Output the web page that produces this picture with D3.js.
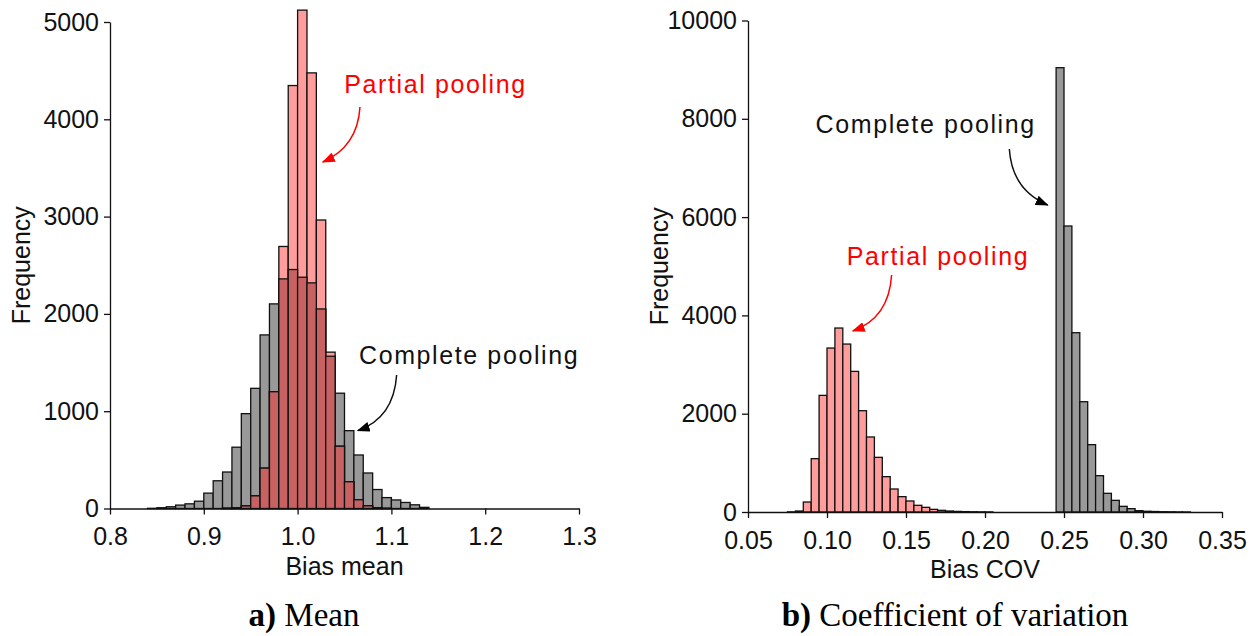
<!DOCTYPE html>
<html>
<head>
<meta charset="utf-8">
<script src="https://cdn.jsdelivr.net/npm/d3@7"></script>
<style>
body { margin: 0; background: #fff; }
text { font-family: "Liberation Sans", Arial, sans-serif; }
</style>
</head>
<body>
<script>
// ---- data ----
// a) bias mean, bins 0.01 wide (left edge)
var meanBins = [0.84,0.85,0.86,0.87,0.88,0.89,0.90,0.91,0.92,0.93,0.94,0.95,0.96,0.97,0.98,0.99,1.00,1.01,1.02,1.03,1.04,1.05,1.06,1.07,1.08,1.09,1.10,1.11,1.12,1.13];
var meanComplete = [2,8,18,35,48,75,158,285,375,630,975,1235,1784,2103,2360,2456,2377,2319,2051,1565,1185,800,550,365,195,112,88,62,38,12];
var meanPartial = [0,0,0,0,0,0,0,0,3,8,27,130,415,1200,2693,4347,5122,4477,2965,1607,640,275,90,28,8,2,0,0,0,0];
var meanXTicks = [0.8,0.9,1.0,1.1,1.2,1.3];
var meanYTicks = [0,1000,2000,3000,4000,5000];

// b) bias COV, bins 0.005 wide (left edge)
var covPartialBins = [0.075,0.08,0.085,0.09,0.095,0.1,0.105,0.11,0.115,0.12,0.125,0.13,0.135,0.14,0.145,0.15,0.155,0.16,0.165,0.17,0.175,0.18,0.185,0.19,0.195,0.2];
var covPartial = [3,20,203,1085,2373,3336,3743,3417,2861,2061,1526,1112,719,468,312,224,136,95,54,34,20,12,8,5,3,2];
var covCompleteBins = [0.245,0.25,0.255,0.26,0.265,0.27,0.275,0.28,0.285,0.29,0.295,0.3,0.305,0.31,0.315,0.32,0.325];
var covComplete = [9040,5819,3648,2244,1370,739,380,237,115,68,27,15,10,6,4,2,1];
var covXTicks = [0.05,0.10,0.15,0.20,0.25,0.30,0.35];
var covYTicks = [0,2000,4000,6000,8000,10000];

var pink = "#ff9c9c", grey = "#999999", overlap = "#c86262";

var svg = d3.select("body").append("svg")
  .attr("width", 1258)
  .attr("height", 636);

var defs = svg.append("defs");
function addMarker(id, color) {
  defs.append("marker")
    .attr("id", id)
    .attr("viewBox", "0 0 13 10")
    .attr("refX", 12).attr("refY", 5)
    .attr("markerWidth", 13).attr("markerHeight", 10)
    .attr("markerUnits", "userSpaceOnUse")
    .attr("orient", "auto")
    .append("path")
    .attr("d", "M0,0L13,5L0,10z")
    .attr("fill", color);
}
addMarker("headRed", "#ff0000");
addMarker("headBlack", "#000");

function bars(g, x, y, bins, vals, w, fill) {
  var d = bins.map(function(b, i) { return {x0: b, v: vals[i]}; }).filter(function(d) { return d.v > 0; });
  g.append("g").selectAll("rect")
    .data(d)
    .enter().append("rect")
    .attr("x", function(d) { return x(d.x0); })
    .attr("width", function(d) { return x(d.x0 + w) - x(d.x0); })
    .attr("y", function(d) { return y(d.v); })
    .attr("height", function(d) { return y(0) - y(d.v); })
    .attr("fill", fill)
    .attr("stroke", "#111")
    .attr("stroke-width", 1.3);
}

function axes(g, x, y, xt, yt, xfmt, xTitle, yTitleX) {
  var ax = g.append("g")
    .attr("transform", "translate(0," + y.range()[0] + ")")
    .call(d3.axisBottom(x).tickValues(xt).tickFormat(d3.format(xfmt)).tickSizeInner(6).tickSizeOuter(0).tickPadding(13));
  var ay = g.append("g")
    .attr("transform", "translate(" + x.range()[0] + ",0)")
    .call(d3.axisLeft(y).tickValues(yt).tickFormat(d3.format("d")).tickSizeInner(6).tickSizeOuter(0).tickPadding(5));
  [ax, ay].forEach(function(a) {
    a.selectAll("text").attr("font-size", 25).attr("fill", "#111").attr("font-family", "Liberation Sans, Arial, sans-serif");
    a.selectAll("line").attr("stroke", "#111").attr("stroke-width", 1.3);
    a.select(".domain").attr("stroke", "#111").attr("stroke-width", 1.3);
  });
  g.append("text")
    .attr("x", (x.range()[0] + x.range()[1]) / 2)
    .attr("y", y.range()[0] + 66)
    .attr("text-anchor", "middle")
    .attr("font-size", 25)
    .attr("fill", "#111")
    .text(xTitle);
  g.append("text")
    .attr("transform", "translate(" + yTitleX + "," + (y.range()[0] + y.range()[1]) / 2 + ") rotate(-90)")
    .attr("text-anchor", "middle")
    .attr("font-size", 25)
    .attr("fill", "#111")
    .text("Frequency");
}

function note(g, x, y, a) {
  g.append("text")
    .attr("x", x(a.tx)).attr("y", y(a.ty))
    .attr("font-size", 25)
    .attr("letter-spacing", 1.6)
    .attr("fill", a.color)
    .text(a.label);
  var p = d3.path();
  p.moveTo(x(a.from[0]), y(a.from[1]));
  p.quadraticCurveTo(x(a.ctrl[0]), y(a.ctrl[1]), x(a.to[0]), y(a.to[1]));
  g.append("path")
    .attr("d", p.toString())
    .attr("fill", "none")
    .attr("stroke", a.color)
    .attr("stroke-width", 1.5)
    .attr("marker-end", "url(#" + a.head + ")");
}

// ---- panel a ----
var xa = d3.scaleLinear().domain([0.8, 1.3]).range([110, 579]);
var ya = d3.scaleLinear().domain([0, 5000]).range([508.5, 22]);
var ga = svg.append("g");
bars(ga, xa, ya, meanBins, meanComplete, 0.01, grey);
bars(ga, xa, ya, meanBins, meanPartial, 0.01, pink);
bars(ga, xa, ya, meanBins, meanBins.map(function(b, i) { return Math.min(meanComplete[i], meanPartial[i]); }), 0.01, overlap);
axes(ga, xa, ya, meanXTicks, meanYTicks, ".1f", "Bias mean", 30);
note(ga, xa, ya, {label: "Partial pooling", color: "#ff0000", head: "headRed",
  tx: 1.0498, ty: 4267, from: [1.0665, 4127], ctrl: [1.0640, 3720], to: [1.0268, 3561]});
note(ga, xa, ya, {label: "Complete pooling", color: "#111", head: "headBlack",
  tx: 1.0655, ty: 1482, from: [1.1056, 1372], ctrl: [1.1025, 930], to: [1.0641, 800]});

// ---- panel b ----
var xb = d3.scaleLinear().domain([0.05, 0.35]).range([748, 1222]);
var yb = d3.scaleLinear().domain([0, 10000]).range([512, 20.5]);
var gb = svg.append("g");
bars(gb, xb, yb, covPartialBins, covPartial, 0.005, pink);
bars(gb, xb, yb, covCompleteBins, covComplete, 0.005, grey);
axes(gb, xb, yb, covXTicks, covYTicks, ".2f", "Bias COV", 668);
note(gb, xb, yb, {label: "Complete pooling", color: "#111", head: "headBlack",
  tx: 0.0928, ty: 7705, from: [0.2154, 7385], ctrl: [0.2171, 6551], to: [0.2397, 6246]});
note(gb, xb, yb, {label: "Partial pooling", color: "#ff0000", head: "headRed",
  tx: 0.1125, ty: 5025, from: [0.1409, 4822], ctrl: [0.1392, 3947], to: [0.1163, 3683]});

// ---- captions ----
[{x: 304, lead: "a)", rest: " Mean"}, {x: 955, lead: "b)", rest: " Coefficient of variation"}].forEach(function(c) {
  var t = svg.append("text")
    .attr("x", c.x).attr("y", 626)
    .attr("text-anchor", "middle")
    .attr("font-size", 33)
    .attr("fill", "#000")
    .style("font-family", "'Liberation Serif', 'Times New Roman', serif");
  t.append("tspan").attr("font-weight", "bold").text(c.lead);
  t.append("tspan").text(c.rest);
});
</script>
</body>
</html>
